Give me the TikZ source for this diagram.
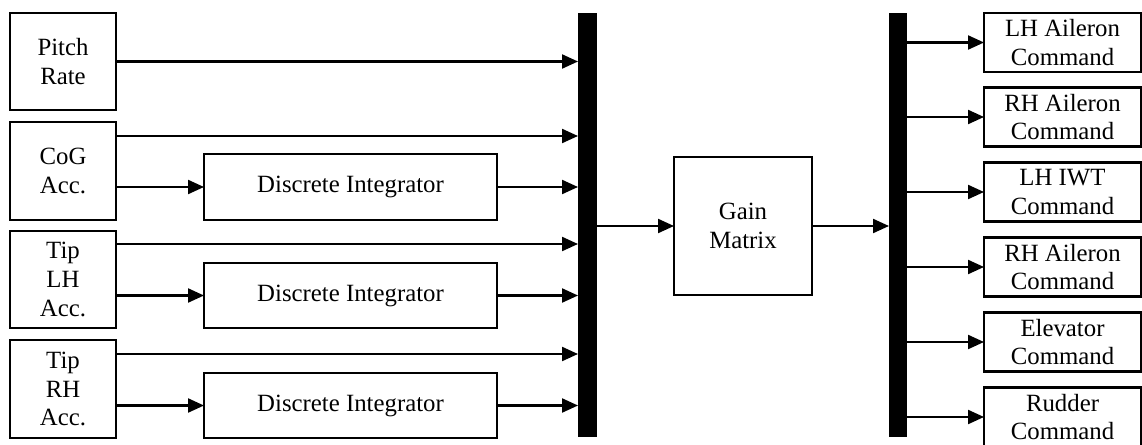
\documentclass[tikz,border=0pt]{standalone}
\usepackage{fontspec}
\setmainfont{Liberation Serif}
\usetikzlibrary{arrows.meta}
\begin{document}
\begin{tikzpicture}[x=1pt,y=-1pt,
  box/.style={draw,line width=2.2pt,inner sep=0pt,outer sep=0pt,align=center,
    font=\fontsize{24.8}{28.8}\selectfont},
  bus/.style={fill=black,draw=none,inner sep=0pt,outer sep=0pt,minimum height=424pt},
  arr/.style={line width=2.2pt,-{Triangle[length=16pt,width=14pt]}}]
\clip (0,0) rectangle (1142,444);
\fill[white] (0,0) rectangle (1142,444);

% sensor inputs
\node[box,minimum width=106pt,minimum height=97pt] (pitch) at (63,61.5) {Pitch\\Rate};
\node[box,minimum width=106pt,minimum height=98pt] (cog) at (63,171) {CoG\\Acc.};
\node[box,minimum width=106pt,minimum height=97pt] (tiplh) at (63,279.5) {Tip\\LH\\Acc.};
\node[box,minimum width=106pt,minimum height=98pt] (tiprh) at (63,389) {Tip\\RH\\Acc.};

% integrators
\node[box,minimum width=293pt,minimum height=66pt] (int1) at (350.5,187) {Discrete Integrator};
\node[box,minimum width=293pt,minimum height=65pt] (int2) at (350.5,295.5) {Discrete Integrator};
\node[box,minimum width=293pt,minimum height=65pt] (int3) at (350.5,405.5) {Discrete Integrator};

% mux / demux bars
\node[bus,minimum width=19pt] (bus1) at (587.5,225) {};
\node[bus,minimum width=18pt] (bus2) at (898,225) {};

% gain
\node[box,minimum width=138pt,minimum height=138pt] (gain) at (743,226) {Gain\\Matrix};

% actuator commands
\foreach \n/\y/\t in {o1/42.5/LH Aileron,o2/117/RH Aileron,o3/192/LH IWT,
                      o4/267/RH Aileron,o5/342/Elevator,o6/417/Rudder}
  \node[box,minimum width=157pt,minimum height=59pt] (\n) at (1062.5,\y) {\t\\Command};

% connections into the first bar
\draw[arr] (pitch.east) -- (pitch.east -| bus1.west);
\draw[arr] ([yshift=35pt]cog.east) -- ([yshift=35pt]cog.east -| bus1.west);
\draw[arr] (cog.east |- int1.west) -- (int1.west);
\draw[arr] (int1.east) -- (int1.east -| bus1.west);
\draw[arr] ([yshift=35.5pt]tiplh.east) -- ([yshift=35.5pt]tiplh.east -| bus1.west);
\draw[arr] (tiplh.east |- int2.west) -- (int2.west);
\draw[arr] (int2.east) -- (int2.east -| bus1.west);
\draw[arr] ([yshift=35pt]tiprh.east) -- ([yshift=35pt]tiprh.east -| bus1.west);
\draw[arr] (tiprh.east |- int3.west) -- (int3.west);
\draw[arr] (int3.east) -- (int3.east -| bus1.west);

% through the gain matrix
\draw[arr] (gain.west -| bus1.east) -- (gain.west);
\draw[arr] (gain.east) -- (gain.east -| bus2.west);

% out to the commands
\foreach \n in {o1,o2,o3,o4,o5,o6}
  \draw[arr] (\n.west -| bus2.east) -- (\n.west);
\end{tikzpicture}
\end{document}
